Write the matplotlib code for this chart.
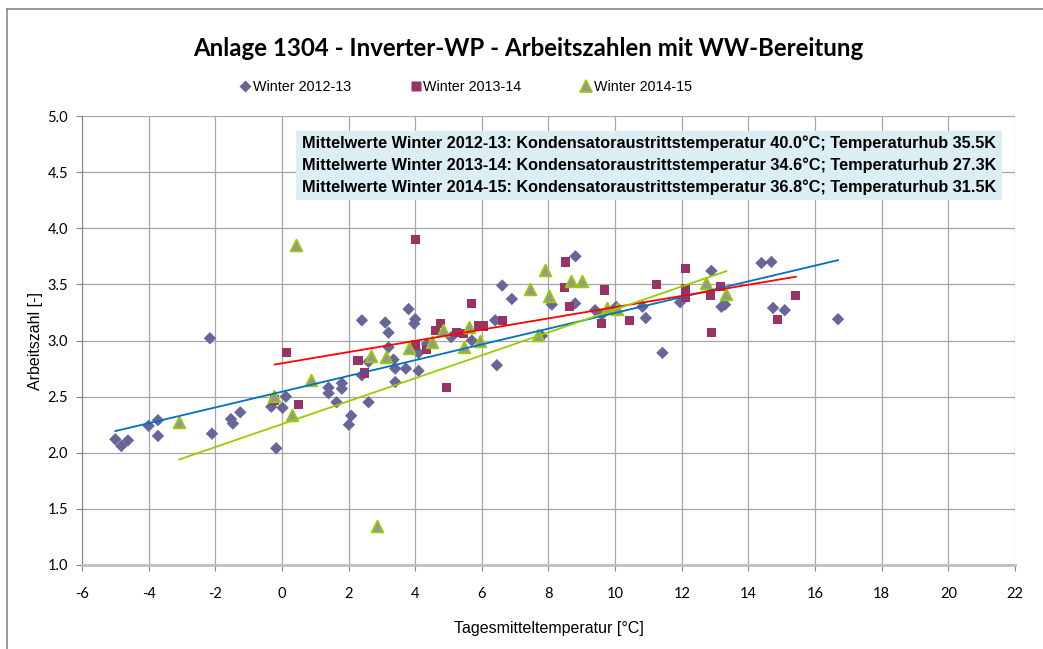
import numpy as np
import matplotlib
matplotlib.use("Agg")
import matplotlib.pyplot as plt
from matplotlib.lines import Line2D
from matplotlib.patches import Rectangle

plt.rcParams["axes.unicode_minus"] = False

# Tagesmitteltemperatur / Arbeitszahl je Winter
x_1213 = [-5.0, -4.82, -4.62, -4.0, -3.72, -3.72, -2.16, -2.1, -1.53, -1.47, -1.25, -0.32, -0.17,
          0.02, 0.12, 1.4, 1.4, 1.64, 1.8, 1.8, 2.01, 2.08, 2.4, 2.4, 2.6, 2.6, 3.1, 3.2, 3.2,
          3.35, 3.4, 3.4, 3.72, 3.8, 4.0, 3.97, 4.1, 4.1, 4.35, 5.08, 5.7, 6.4, 6.45, 6.61, 6.9,
          7.8, 8.1, 8.81, 8.8, 9.4, 9.6, 10.03, 10.82, 10.92, 11.42, 11.95, 12.89, 13.19, 13.3,
          14.39, 14.69, 14.74, 15.09, 16.69]
y_1213 = [2.12, 2.06, 2.11, 2.24, 2.29, 2.15, 3.02, 2.17, 2.30, 2.26, 2.36, 2.41, 2.04,
          2.40, 2.50, 2.58, 2.53, 2.45, 2.62, 2.57, 2.25, 2.33, 3.18, 2.69, 2.45, 2.81, 3.16, 3.07, 2.94,
          2.83, 2.75, 2.63, 2.75, 3.28, 3.19, 3.15, 2.73, 2.89, 2.97, 3.03, 3.00, 3.18, 2.78, 3.49, 3.37,
          3.04, 3.32, 3.75, 3.33, 3.27, 3.23, 3.30, 3.30, 3.20, 2.89, 3.34, 3.62, 3.30, 3.32,
          3.69, 3.70, 3.29, 3.27, 3.19]

x_1314 = [-0.22, 0.14, 0.5, 2.28, 2.47, 4.0, 4.0, 4.35, 4.6, 4.75, 4.93, 5.25, 5.45, 5.7, 5.9,
          6.05, 6.61, 8.47, 8.52, 8.62, 9.6, 9.67, 10.43, 11.23, 12.12, 12.12, 12.12, 12.85, 12.9,
          13.17, 14.88, 15.42]
y_1314 = [2.47, 2.89, 2.43, 2.82, 2.71, 3.90, 2.96, 2.92, 3.09, 3.15, 2.58, 3.07, 3.06, 3.33, 3.13,
          3.13, 3.18, 3.47, 3.70, 3.30, 3.15, 3.45, 3.18, 3.50, 3.64, 3.46, 3.38, 3.40, 3.07,
          3.48, 3.19, 3.40]

x_1415 = [-3.08, -0.24, 0.29, 0.41, 0.88, 2.68, 2.85, 3.12, 3.82, 4.5, 4.83, 5.45, 5.6, 5.95,
          7.45, 7.67, 7.9, 8.02, 8.68, 9.0, 9.75, 10.07, 12.74, 13.34]
y_1415 = [2.27, 2.51, 2.34, 3.85, 2.65, 2.86, 1.35, 2.85, 2.93, 2.99, 3.09, 2.94, 3.12, 3.00,
          3.46, 3.05, 3.63, 3.40, 3.53, 3.53, 3.29, 3.28, 3.51, 3.41]

# lineare Trendlinien (Steigung, Achsenabschnitt)
trend_slope = [0.0702, 0.0500, 0.1022]
trend_icept = [2.544, 2.797, 2.255]

labels = ["Winter 2012-13", "Winter 2013-14", "Winter 2014-15"]
info_lines = [
    "Mittelwerte Winter 2012-13: Kondensatoraustrittstemperatur 40.0\u00b0C; Temperaturhub 35.5K",
    "Mittelwerte Winter 2013-14: Kondensatoraustrittstemperatur 34.6\u00b0C; Temperaturhub 27.3K",
    "Mittelwerte Winter 2014-15: Kondensatoraustrittstemperatur 36.8\u00b0C; Temperaturhub 31.5K",
]
x_ticks = np.arange(-6, 23, 2)
y_ticks = np.arange(1.0, 5.01, 0.5)

W, H = 1043, 649
fig = plt.figure(figsize=(W / 100, H / 100), dpi=100)
ax = fig.add_axes([82 / W, 1 - 565 / H, (1015 - 82) / W, (565 - 116) / H])

styles = [
    dict(marker="D", s=40, color="#666699", edgecolors="none"),
    dict(marker="s", s=44, color="#993366", edgecolors="none"),
    dict(marker="^", s=70, color="#969696", edgecolors="#99CC00", linewidths=1.3),
]
line_colors = ["#0070C0", "#FF0000", "#99CC00"]
data = [(x_1213, y_1213), (x_1314, y_1314), (x_1415, y_1415)]

for (xs, ys), st, lc, k, d in zip(data, styles, line_colors, trend_slope, trend_icept):
    ax.scatter(xs, ys, zorder=3, **st)
    xt = np.array([min(xs), max(xs)])
    ax.plot(xt, k * xt + d, color=lc, lw=1.3, zorder=4)

ax.set_xlim(-6, 22)
ax.set_ylim(1.0, 5.0)
ax.set_xticks(x_ticks)
ax.set_yticks(y_ticks)
ax.set_yticklabels([f"{v:.1f}" for v in y_ticks])
ax.grid(True, color="#A6A6A6", lw=0.9)
ax.set_axisbelow(True)
for s in ["top", "right"]:
    ax.spines[s].set_visible(False)
ax.spines["left"].set_color("#868686")
ax.spines["bottom"].set_color("#BFBFBF")
ax.spines["bottom"].set_linewidth(2)
ax.tick_params(axis="both", direction="out", length=4, color="#868686", labelsize=10.5, pad=6)
for lab in ax.get_xticklabels() + ax.get_yticklabels():
    lab.set_family("Lato")
ax.xaxis.set_tick_params(pad=12)

ax.set_xlabel("Tagesmitteltemperatur [\u00b0C]", family="Liberation Sans", fontsize=11.5, labelpad=14)
ax.set_ylabel("Arbeitszahl [-]", family="Liberation Sans", fontsize=11.5)
ax.yaxis.set_label_coords(-(82 - 43) / (1015 - 82), 0.5)

fig.text(528 / W, 1 - 48 / H, "Anlage 1304 - Inverter-WP - Arbeitszahlen mit WW-Bereitung",
         ha="center", va="center", family="Lato", weight="bold", fontsize=17.3)

handles = [
    Line2D([], [], ls="none", marker="D", ms=6, color="#666699", mec="none"),
    Line2D([], [], ls="none", marker="s", ms=7, color="#993366", mec="none"),
    Line2D([], [], ls="none", marker="^", ms=8, color="#969696", mec="#99CC00", mew=1.2),
]
fig.legend(handles=handles, labels=labels, loc="center", bbox_to_anchor=(466 / W, 1 - 87 / H), ncol=3,
           frameon=False, prop={"family": "Liberation Sans", "size": 10.3},
           handlelength=0.7, handletextpad=0.15, columnspacing=4.2)

# Infobox mit Mittelwerten
fig.add_artist(Rectangle((296 / W, 1 - 200 / H), (1002 - 296) / W, 69 / H,
                         transform=fig.transFigure, facecolor="#DAEEF3", edgecolor="none", zorder=5))
for i, line in enumerate(info_lines):
    fig.text(302 / W, 1 - (143 + 22 * i) / H, line, ha="left", va="center", zorder=6,
             family="Liberation Sans", weight="bold", fontsize=11.7)

# Rahmen des Diagrammbereichs (rechts/unten abgeschnitten)
fig.add_artist(Line2D([7 / W, 7 / W], [0, 1 - 9 / H], transform=fig.transFigure, color="#868686", lw=1.2))
fig.add_artist(Line2D([7 / W, 1], [1 - 9 / H, 1 - 9 / H], transform=fig.transFigure, color="#868686", lw=1.2))

fig.savefig("out.png", dpi=100)
